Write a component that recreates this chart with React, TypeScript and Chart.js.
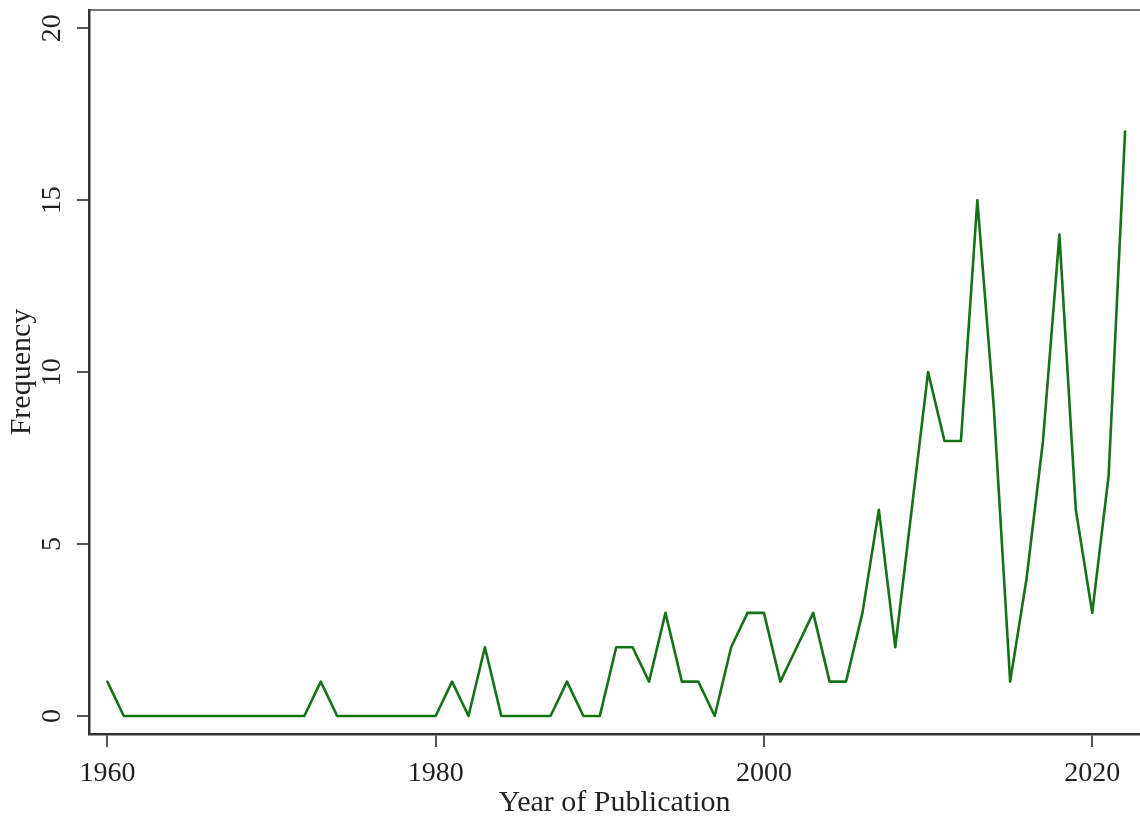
import React, { useEffect, useRef } from "react";
import { Chart, registerables } from "chart.js";

Chart.register(...registerables);

const years = [
  1960, 1961, 1962, 1963, 1964, 1965, 1966, 1967, 1968, 1969,
  1970, 1971, 1972, 1973, 1974, 1975, 1976, 1977, 1978, 1979,
  1980, 1981, 1982, 1983, 1984, 1985, 1986, 1987, 1988, 1989,
  1990, 1991, 1992, 1993, 1994, 1995, 1996, 1997, 1998, 1999,
  2000, 2001, 2002, 2003, 2004, 2005, 2006, 2007, 2008, 2009,
  2010, 2011, 2012, 2013, 2014, 2015, 2016, 2017, 2018, 2019,
  2020, 2021, 2022,
];

const frequency = [
  1, 0, 0, 0, 0, 0, 0, 0, 0, 0,
  0, 0, 0, 1, 0, 0, 0, 0, 0, 0,
  0, 1, 0, 2, 0, 0, 0, 0, 1, 0,
  0, 2, 2, 1, 3, 1, 1, 0, 2, 3,
  3, 1, 2, 3, 1, 1, 3, 6, 2, 6,
  10, 8, 8, 15, 9, 1, 4, 8, 14, 6,
  3, 7, 17,
];

const xTicks = [1960, 1980, 2000, 2020];
const yTicks = [0, 5, 10, 15, 20];
const xTitle = "Year of Publication";
const yTitle = "Frequency";

const X_MIN = 1958.88;
const X_MAX = 2022.91;
const Y_MIN = -0.523;
const Y_MAX = 20.532;

export default function App() {
  const ref = useRef<HTMLCanvasElement>(null);

  useEffect(() => {
    document.body.style.margin = "0";
    const family = "'Liberation Serif', 'Times New Roman', serif";
    const font = { family, size: 28 };
    const chart = new Chart(ref.current as HTMLCanvasElement, {
      type: "line",
      data: {
        datasets: [
          {
            data: years.map((x, i) => ({ x, y: frequency[i] })),
            borderColor: "#167216",
            borderWidth: 2.6,
            borderJoinStyle: "round",
            borderCapStyle: "round",
            pointRadius: 0,
            tension: 0,
            fill: false,
          },
        ],
      },
      options: {
        responsive: false,
        animation: false,
        layout: { padding: { top: 10, left: 0, right: 0, bottom: 0 } },
        plugins: {
          legend: { display: false },
          tooltip: { enabled: false },
        },
        scales: {
          x: {
            type: "linear",
            position: "bottom",
            min: X_MIN,
            max: X_MAX,
            afterBuildTicks: (s: any) => {
              s.ticks = xTicks.map((v) => ({ value: v }));
            },
            ticks: {
              font,
              color: "#222",
              padding: 10,
              minRotation: 0,
              maxRotation: 0,
              callback: (v: any) => String(v),
            },
            grid: {
              display: true,
              drawOnChartArea: false,
              drawTicks: true,
              tickLength: 13,
              color: "#555",
              lineWidth: 2,
            },
            border: { display: true, color: "#333", width: 2.5 },
            title: {
              display: true,
              text: xTitle,
              color: "#222",
              font: { family, size: 30, lineHeight: 0.85 },
              padding: { top: 0, bottom: 0 },
            },
            afterFit: (s: any) => {
              s.height = 82;
              s.paddingLeft = 0;
              s.paddingRight = 0;
            },
          },
          x2: {
            type: "linear",
            position: "top",
            min: X_MIN,
            max: X_MAX,
            ticks: { display: false },
            grid: { display: false },
            border: { display: true, color: "#777", width: 2 },
            afterFit: (s: any) => {
              s.height = 0;
              s.paddingLeft = 0;
              s.paddingRight = 0;
            },
          },
          y: {
            type: "linear",
            position: "left",
            min: Y_MIN,
            max: Y_MAX,
            afterBuildTicks: (s: any) => {
              s.ticks = yTicks.map((v) => ({ value: v }));
            },
            ticks: {
              font,
              color: "#222",
              padding: 10,
              minRotation: 90,
              maxRotation: 90,
              crossAlign: "center",
              callback: (v: any) => String(v),
            },
            grid: {
              display: true,
              drawOnChartArea: false,
              drawTicks: true,
              tickLength: 12,
              color: "#555",
              lineWidth: 2,
            },
            border: { display: true, color: "#333", width: 2.5 },
            title: {
              display: true,
              text: yTitle,
              color: "#222",
              font: { family, size: 30, lineHeight: 1.2 },
              padding: { top: 4, bottom: 0 },
            },
            afterFit: (s: any) => {
              s.width = 89;
              s.paddingTop = 0;
              s.paddingBottom = 0;
            },
          },
        },
      },
    } as any);
    return () => chart.destroy();
  }, []);

  return (
    <div style={{ width: 1140, height: 816 }}>
      <canvas ref={ref} width={1140} height={816} style={{ display: "block" }} />
    </div>
  );
}
